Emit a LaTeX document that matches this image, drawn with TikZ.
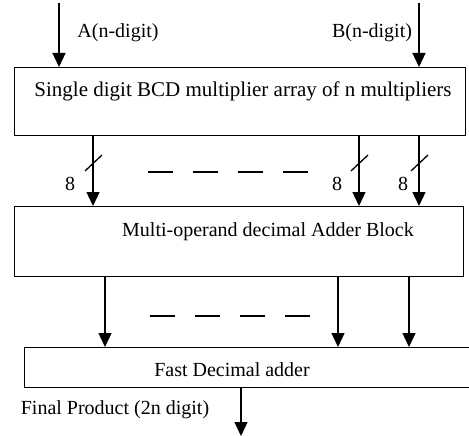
\documentclass[tikz,border=0pt]{standalone}
\usepackage{fontspec}
\setmainfont{Liberation Serif}
\usetikzlibrary{arrows.meta}
\begin{document}
\begin{tikzpicture}[x=1pt,y=-1pt,
  blk/.style={draw, line width=1.3pt, anchor=north west, inner sep=0pt},
  arr/.style={line width=1.3pt, -{Triangle[width=13pt,length=14pt]}},
  txt/.style={font=\fontsize{20}{24}\selectfont, inner sep=0pt, anchor=base},
  slash/.style={line width=1.3pt},
  gap/.style={line width=1.4pt, dash pattern=on 25pt off 20pt}]
\useasboundingbox (0,0) rectangle (469,436);
\clip (0,0) rectangle (469,436);
% blocks
\node[blk, minimum width=451pt, minimum height=68pt] (b1) at (14,67) {};
\node[blk, minimum width=449pt, minimum height=70pt] (b2) at (14,206) {};
\node[blk, minimum width=460pt, minimum height=40pt] (b3) at (24,347) {};
% texts
\node[txt] (ta) at (118,38) {A(n-digit)};
\node[txt] (tb) at (372,38) {B(n-digit)};
\node[txt, font=\fontsize{21}{24}\selectfont] (t1) at (243,97) {Single digit BCD multiplier array of n multipliers};
\node[txt] (t2) at (268,236) {Multi-operand decimal Adder Block};
\node[txt] (t3) at (232,376) {Fast Decimal adder};
\node[txt] (tf) at (115,414) {Final Product (2n digit)};
\node[txt] (e1) at (70,190) {8};
\node[txt] (e2) at (337,190) {8};
\node[txt] (e3) at (403,190) {8};
% column coordinates
\coordinate (xa) at (59,3);
\coordinate (xb) at (419,3);
\coordinate (c1) at (93,0);
\coordinate (c2) at (359,0);
\coordinate (c3) at (419,0);
\coordinate (d1) at (105,0);
\coordinate (d2) at (338,0);
\coordinate (d3) at (409,0);
\coordinate (fo) at (241,0);
\coordinate (fe) at (241,436);
% inputs
\draw[arr] (xa) -- (xa |- b1.north);
\draw[arr] (xb) -- (xb |- b1.north);
% b1 -> b2
\draw[arr] (c1 |- b1.south) -- (c1 |- b2.north);
\draw[arr] (c2 |- b1.south) -- (c2 |- b2.north);
\draw[arr] (c3 |- b1.south) -- (c3 |- b2.north);
\draw[slash] (85,171) -- (102,155);
\draw[slash] (351,171) -- (368,155);
\draw[slash] (411,171) -- (428,155);
\draw[gap] (148,172) -- (308,172);
% b2 -> b3
\draw[arr] (d1 |- b2.south) -- (d1 |- b3.north);
\draw[arr] (d2 |- b2.south) -- (d2 |- b3.north);
\draw[arr] (d3 |- b2.south) -- (d3 |- b3.north);
\draw[gap] (150,316) -- (310,316);
% output
\draw[arr] (fo |- b3.south) -- (fe);
\end{tikzpicture}
\end{document}
